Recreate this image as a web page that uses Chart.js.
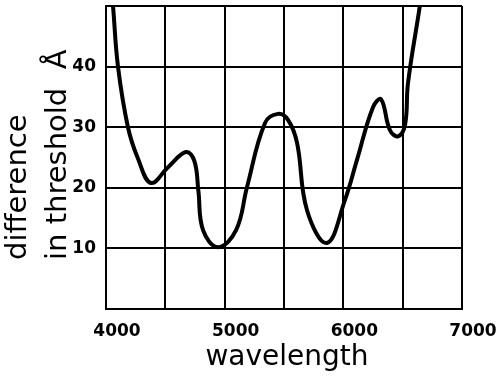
<!DOCTYPE html>
<html>
<head>
<meta charset="utf-8">
<script src="https://cdn.jsdelivr.net/npm/chart.js@4.4.1/dist/chart.umd.min.js"></script>
<style>
  html, body { margin: 0; padding: 0; background: #fff; }
  #wrap { width: 498px; height: 376px; }
</style>
</head>
<body>
<div id="wrap"><canvas id="chart" width="498" height="376"></canvas></div>
<script>
// wavelength (Å) and difference in threshold (Å)
const wavelength = [4030, 4059, 4101, 4185, 4270, 4379, 4523, 4674, 4745, 4778, 4818, 4944, 5096, 5188, 5340, 5449, 5534, 5610, 5694, 5862, 6014, 6115, 6250, 6318, 6393, 6461, 6520, 6545, 6646, 6670];
const threshold  = [56,   50,   40,   30,   24.8, 20.8, 23.4, 25.9, 24.4, 19.6, 13.0, 10.2, 13.0, 20.1, 30.7, 32.2, 31.2, 27.4, 16.3, 10.9, 18.0, 24.6, 33.3, 34.6, 29.5, 28.5, 30.4, 37.3, 50.2, 54];

const xTicks = [4000, 5000, 6000, 7000];
const yTicks = [10, 20, 30, 40];

const points = wavelength.map((w, i) => ({ x: w, y: threshold[i] }));

const titles = {
  id: "titles",
  afterDraw(chart) {
    const ctx = chart.ctx;
    ctx.save();
    ctx.fillStyle = "#000";
    ctx.font = "28px 'DejaVu Sans'";
    ctx.textAlign = "center";
    ctx.textBaseline = "alphabetic";
    ctx.fillText("wavelength", 287, 365);
    ctx.font = "29px 'DejaVu Sans'";
    ctx.textAlign = "left";
    ctx.translate(26, 260);
    ctx.rotate(-Math.PI / 2);
    ctx.fillText("difference", 0, 0);
    ctx.fillText("in threshold  Å", 0, 40);
    ctx.restore();
  }
};

const tickFont = { family: "'DejaVu Sans'", size: 17, weight: "bold" };

new Chart(document.getElementById("chart"), {
  type: "line",
  data: {
    datasets: [{
      data: points,
      borderColor: "#000",
      borderWidth: 4,
      pointRadius: 0,
      fill: false,
      tension: 0.4,
      clip: 0
    }]
  },
  options: {
    responsive: false,
    animation: false,
    layout: { padding: { top: 6, right: 36, left: 0, bottom: 0 } },
    plugins: { legend: { display: false }, tooltip: { enabled: false } },
    scales: {
      x: {
        type: "linear",
        min: 4000,
        max: 7000,
        afterFit(scale) {
          scale.height = 67;
          scale.paddingLeft = 0;
          scale.paddingRight = 0;
        },
        grid: { color: "#000", lineWidth: 2, drawTicks: false },
        border: { color: "#000", width: 2 },
        ticks: {
          stepSize: 500,
          autoSkip: false,
          maxRotation: 0,
          padding: 12,
          labelOffset: 11,
          color: "#000",
          font: tickFont,
          callback: v => xTicks.includes(v) ? String(v) : ""
        }
      },
      y: {
        min: 0,
        max: 50,
        afterFit(scale) {
          scale.width = 106;
          scale.paddingTop = 0;
          scale.paddingBottom = 0;
        },
        grid: { color: "#000", lineWidth: 2, drawTicks: false },
        border: { color: "#000", width: 2 },
        ticks: {
          stepSize: 10,
          padding: 10,
          color: "#000",
          font: tickFont,
          callback: v => yTicks.includes(v) ? String(v) : ""
        }
      }
    }
  },
  plugins: [titles]
});
</script>
</body>
</html>
